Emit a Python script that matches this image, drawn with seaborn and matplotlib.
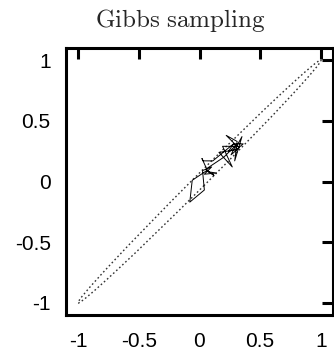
import matplotlib
matplotlib.use("Agg")
import matplotlib.pyplot as plt
from matplotlib.patches import Ellipse
import numpy as np
import pandas as pd
import seaborn as sns

sns.set_theme(style="white")
plt.rcParams["font.family"] = ["Liberation Sans", "DejaVu Sans"]
plt.rcParams["mathtext.fontset"] = "cm"

# ── Gibbs chain ────────────────────────────────────────────────────────────
chain_x = [0.30, 0.35, 0.29, 0.31, 0.22, 0.31, 0.19, 0.27, 0.16, 0.30,
           0.36, 0.28, 0.11, 0.03, 0.02, 0.07, 0.14, 0.04, 0.10, 0.025,
           0.04, -0.08, -0.06, 0.06, 0.12, 0.05, 0.20, 0.30, 0.26, 0.33,
           0.28, 0.24, 0.31]
chain_y = [0.28, 0.37, 0.17, 0.33, 0.38, 0.29, 0.29, 0.12, 0.24, 0.26,
           0.31, 0.31, 0.17, 0.17, 0.19, 0.08, 0.07, 0.06, 0.12, 0.09,
           -0.07, -0.17, 0.01, 0.09, 0.05, 0.10, 0.20, 0.30, 0.22, 0.28,
           0.31, 0.25, 0.27]

# target contour: thin ellipse along the diagonal
ELL_CENTER = (0.0, 0.0)
ELL_MAJOR = 2.83     # full length, corner to corner
ELL_MINOR = 0.10
ELL_ANGLE = 45

ticks = [-1, -0.5, 0, 0.5, 1]
tick_labels = ["-1", "-0.5", "0", "0.5", "1"]

df = pd.DataFrame({"x": chain_x, "y": chain_y})

fig = plt.figure(figsize=(3.34, 3.5), dpi=100)
ax = fig.add_axes([66 / 334, 35 / 350, 267 / 334, 267 / 350])

ax.add_patch(Ellipse(ELL_CENTER, ELL_MAJOR, ELL_MINOR, angle=ELL_ANGLE,
                     fill=False, ls=(0, (1.2, 1.8)), lw=1.0, ec="#333333"))
sns.lineplot(data=df, x="x", y="y", sort=False, estimator=None,
             color="black", lw=0.7, ax=ax)

ax.set_xlim(-1.1, 1.1)
ax.set_ylim(-1.1, 1.1)
ax.set_xticks(ticks, tick_labels)
ax.set_yticks(ticks, tick_labels)
ax.set_xlabel("")
ax.set_ylabel("")
ax.tick_params(direction="in", length=8, width=2.2, top=True, right=True,
               labelsize=15, colors="black")
ax.tick_params(axis="x", pad=12)
ax.tick_params(axis="y", pad=11)
for s in ax.spines.values():
    s.set_linewidth(2.2)
    s.set_color("black")

fig.text(180 / 334, 1 - 20 / 350, r"$\mathrm{Gibbs\ sampling}$",
         ha="center", va="center", fontsize=18)

fig.savefig("out.png", dpi=100)
